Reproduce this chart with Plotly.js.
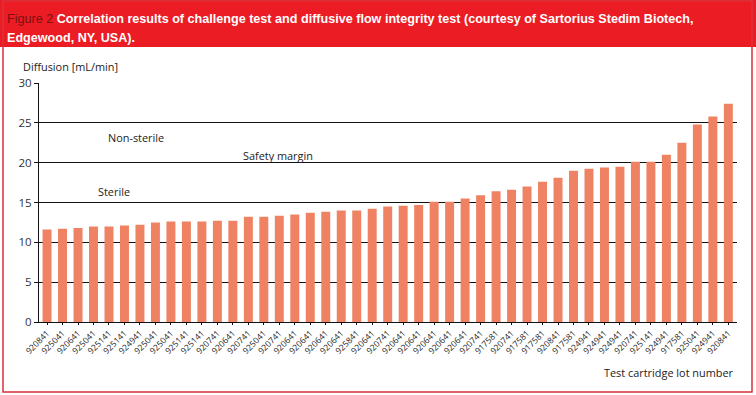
<!DOCTYPE html>
<html>
<head>
<meta charset="utf-8">
<script src="https://cdn.plot.ly/plotly-3.0.1.min.js"></script>
<style>html,body{margin:0;padding:0;background:#fff;}#chart{width:756px;height:395px;}</style>
</head>
<body>
<div id="chart"></div>
<script>
const lotNumbers = ["920841","925041","920641","925041","925141","925141","924941","925041","925041","925141","925141","920741","920641","920741","925041","920741","920641","920641","920641","920641","925841","920641","920741","920641","920641","920641","920641","920641","920741","917581","920741","917581","917581","920841","917581","924941","924941","924941","920741","925141","924941","917581","925041","924941","920841"];
const diffusion = [11.6,11.7,11.8,12.0,12.0,12.1,12.2,12.5,12.6,12.6,12.6,12.7,12.7,13.2,13.2,13.35,13.5,13.7,13.85,14.0,14.0,14.2,14.5,14.6,14.7,15.1,15.1,15.5,15.9,16.4,16.6,17.0,17.6,18.1,19.0,19.25,19.4,19.5,20.1,20.1,21.0,22.5,24.8,25.8,27.4];
const yTicks = [0,5,10,15,20,25,30];
const titleLead = "Figure 2";
const titleLine1 = "Correlation results of challenge test and diffusive flow integrity test (courtesy of Sartorius Stedim Biotech,";
const titleLine2 = "Edgewood, NY, USA).";
const yTitle = "Diffusion [mL/min]";
const xTitle = "Test cartridge lot number";
const zoneLabels = ["Non-sterile","Safety margin","Sterile"];

const W = 756, H = 395, ML = 39, MR = 19, MT = 83, MB = 73;
const PW = W - ML - MR, PH = H - MT - MB;
const px = x => (x - ML) / PW;
const py = y => (H - MB - y) / PH;

const idx = lotNumbers.map((_, i) => i);
const trace = {
  type: 'bar', x: idx, y: diffusion,
  marker: {color: '#f08264'}, hoverinfo: 'skip'
};

const headFont = "'Liberation Sans', Arial, sans-serif";
const bodyFont = "'Open Sans', 'Noto Sans', sans-serif";
const lblSize = 10.9;

const layout = {
  width: W, height: H,
  margin: {l: ML, r: MR, t: MT, b: MB, pad: 0},
  paper_bgcolor: '#fff', plot_bgcolor: '#fff',
  showlegend: false, bargap: 0.42,
  font: {family: bodyFont, color: '#222'},
  xaxis: {
    range: [-0.52, 44.56], tickmode: 'array', tickvals: idx, ticktext: lotNumbers,
    tickangle: -45, tickfont: {size: 8.5, color: '#222', family: bodyFont},
    showgrid: false, zeroline: false, showline: true, linecolor: '#111', linewidth: 1,
    ticks: 'outside', ticklen: 2, tickcolor: '#111', fixedrange: true
  },
  yaxis: {
    range: [0, 30], tickmode: 'array', tickvals: yTicks,
    tickfont: {size: 11.5, color: '#333', family: bodyFont},
    showgrid: true, gridcolor: '#111', gridwidth: 1,
    zeroline: true, zerolinecolor: '#111', zerolinewidth: 1,
    showline: true, linecolor: '#111', linewidth: 1,
    ticks: 'outside', ticklen: 4, tickcolor: '#111', fixedrange: true
  },
  shapes: [
    {type: 'rect', xref: 'paper', yref: 'paper', x0: px(0), x1: px(W), y0: py(0), y1: py(47),
     fillcolor: '#ec1c24', line: {width: 0}, layer: 'below'},
    {type: 'rect', xref: 'paper', yref: 'paper', x0: px(3), x1: px(752), y0: py(1), y1: py(392),
     fillcolor: 'rgba(0,0,0,0)', line: {color: '#d9303a', width: 1.5}}
  ],
  annotations: [
    {xref: 'paper', yref: 'paper', x: px(5), y: py(19), xanchor: 'left', yanchor: 'middle', showarrow: false,
     text: '<span style="color:#7a1212">' + titleLead + '</span> <b>' + titleLine1 + '</b>',
     font: {family: headFont, size: 12.6, color: '#fff'}},
    {xref: 'paper', yref: 'paper', x: px(5), y: py(38), xanchor: 'left', yanchor: 'middle', showarrow: false,
     text: '<b>' + titleLine2 + '</b>', font: {family: headFont, size: 12.6, color: '#fff'}},
    {xref: 'paper', yref: 'paper', x: px(21), y: py(66), xanchor: 'left', yanchor: 'middle', showarrow: false,
     text: yTitle, font: {size: lblSize, color: '#222'}},
    {xref: 'paper', yref: 'paper', x: px(736), y: py(372), xanchor: 'right', yanchor: 'middle', showarrow: false,
     text: xTitle, font: {size: lblSize, color: '#222'}},
    {xref: 'paper', yref: 'paper', x: px(106), y: py(137), xanchor: 'left', yanchor: 'middle', showarrow: false,
     text: zoneLabels[0], font: {size: lblSize, color: '#222'}},
    {xref: 'paper', yref: 'paper', x: px(241), y: py(155), xanchor: 'left', yanchor: 'middle', showarrow: false,
     text: zoneLabels[1], font: {size: lblSize, color: '#222'}},
    {xref: 'paper', yref: 'paper', x: px(96), y: py(191), xanchor: 'left', yanchor: 'middle', showarrow: false,
     text: zoneLabels[2], font: {size: lblSize, color: '#222'}}
  ]
};

Plotly.newPlot('chart', [trace], layout, {staticPlot: true, displayModeBar: false});
</script>
</body>
</html>
